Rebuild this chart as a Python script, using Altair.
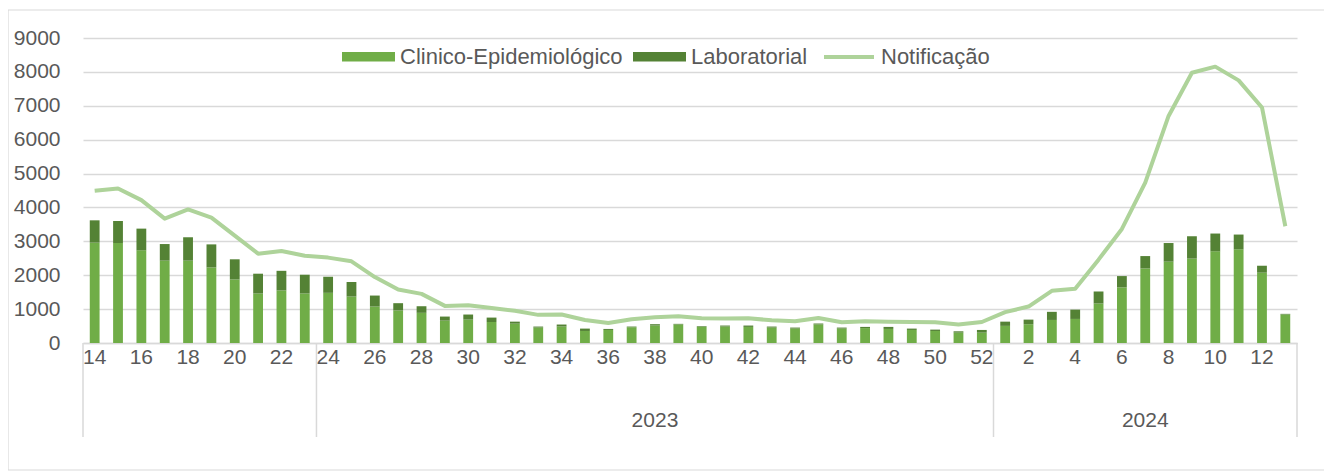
import altair as alt
import pandas as pd

weeks_2023 = list(range(14, 53))
weeks_2024 = list(range(1, 14))
weeks = weeks_2023 + weeks_2024
years = ["2023"] * len(weeks_2023) + ["2024"] * len(weeks_2024)

clinico = [2960, 2950, 2735, 2430, 2430, 2230, 1875, 1460, 1550, 1460,
           1480, 1370, 1075, 960, 890, 660, 690, 620, 570, 455,
           485, 355, 385, 465, 515, 545, 475, 485, 475, 455,
           425, 545, 425, 440, 415, 385, 355, 305, 305,
           505, 555, 680, 710, 1165, 1640, 2200, 2400, 2490, 2705, 2765, 2075, 840]
laboratorial = [660, 650, 640, 490, 690, 680, 595, 585, 580, 555,
                475, 430, 325, 215, 195, 120, 150, 130, 60, 30,
                60, 70, 30, 20, 40, 20, 20, 30, 40, 30,
                30, 30, 30, 35, 60, 40, 40, 40, 80,
                125, 135, 240, 275, 355, 335, 365, 550, 660, 525, 435, 205, 20]
notificacao = [4490, 4560, 4215, 3670, 3940, 3700, 3170, 2635, 2715, 2575,
               2520, 2410, 1945, 1580, 1450, 1095, 1115, 1035, 950, 830,
               840, 680, 590, 700, 760, 790, 730, 720, 730, 670,
               640, 740, 610, 645, 630, 620, 610, 545, 620,
               910, 1075, 1540, 1600, 2460, 3365, 4730, 6700, 7975, 8155, 7750, 6950, 3445]

series_bar = ["Clinico-Epidemiológico", "Laboratorial"]
series_line = "Notificação"
group_start_weeks = [14, 24, 1]
group_end_weeks = [13]
year_label_weeks = [38, 7]
year_labels = ["2023", "2024"]
y_ticks = list(range(0, 9001, 1000))

FONT = "Liberation Sans"
TXT = "#595959"
GRID = "#D9D9D9"

bars_df = pd.DataFrame({
    "week": weeks * 2,
    "year": years * 2,
    "tipo": [series_bar[0]] * len(weeks) + [series_bar[1]] * len(weeks),
    "valor": clinico + laboratorial,
})
line_df = pd.DataFrame({"week": weeks, "valor": notificacao, "serie": series_line})
sep_start_df = pd.DataFrame({"week": group_start_weeks})
sep_end_df = pd.DataFrame({"week": group_end_weeks})
year_df = pd.DataFrame({"week": year_label_weeks, "label": year_labels})

W, H = 1214, 305
xscale = alt.Scale(domain=weeks, paddingInner=0, paddingOuter=0)
yscale = alt.Scale(domain=[0, 9000], nice=False)

xaxis = alt.Axis(
    labelAngle=0, labelFont=FONT, labelFontSize=21, labelColor=TXT,
    ticks=False, domainColor=GRID, domainWidth=1.5, grid=False,
    labelPadding=3, labelOverlap=False, labelBaseline="top",
    labelExpr="datum.value % 2 == 0 ? datum.label : ''",
)
yaxis = alt.Axis(
    values=y_ticks, format="d",
    labelFont=FONT, labelFontSize=21, labelColor=TXT, ticks=False,
    domain=False, gridColor=GRID, gridWidth=1.3, labelPadding=23,
)

frame = alt.Chart(alt.Data(values=[{}])).mark_rect(
    fillOpacity=0, stroke=GRID, strokeWidth=1.2
).encode(
    x=alt.value(-75), x2=alt.value(1242), y=alt.value(-28), y2=alt.value(432)
)

bars = alt.Chart(bars_df).mark_bar(width={"band": 0.42}).encode(
    x=alt.X("week:O", scale=xscale, title=None, axis=xaxis),
    y=alt.Y("valor:Q", scale=yscale, stack="zero", title=None, axis=yaxis),
    color=alt.Color(
        "tipo:N",
        scale=alt.Scale(domain=series_bar, range=["#70AD47", "#548235"]),
        legend=alt.Legend(
            title=None, orient="none", direction="horizontal",
            legendX=259, legendY=-8,
            symbolType="M-1,-0.18H1V0.18H-1Z", symbolSize=2809,
            symbolStrokeWidth=0, symbolOpacity=1,
            labelFont=FONT, labelFontSize=22, labelColor=TXT, labelLimit=0,
            labelOffset=5, columnPadding=10,
        ),
    ),
    order=alt.Order("tipo:N", sort="ascending"),
)

line = alt.Chart(line_df).mark_line(strokeWidth=4, strokeJoin="round").encode(
    x=alt.X("week:O", scale=xscale, title=None, axis=xaxis),
    y=alt.Y("valor:Q", scale=yscale, title=None, axis=yaxis),
    stroke=alt.Stroke(
        "serie:N",
        scale=alt.Scale(domain=[series_line], range=["#AED39A"]),
        legend=alt.Legend(
            title=None, orient="none", direction="horizontal",
            legendX=739, legendY=-8,
            symbolType="stroke", symbolSize=2500, symbolStrokeWidth=4,
            labelFont=FONT, labelFontSize=22, labelColor=TXT, labelOffset=5,
            labelLimit=0,
        ),
    ),
)

sep_start = alt.Chart(sep_start_df).mark_rule(color=GRID, strokeWidth=1.5).encode(
    x=alt.X("week:O", scale=xscale, bandPosition=0, title=None, axis=xaxis),
    y=alt.value(H), y2=alt.value(H + 94),
)
sep_end = alt.Chart(sep_end_df).mark_rule(color=GRID, strokeWidth=1.5).encode(
    x=alt.X("week:O", scale=xscale, bandPosition=1, title=None, axis=xaxis),
    y=alt.value(H), y2=alt.value(H + 94),
)
year_text = alt.Chart(year_df).mark_text(
    font=FONT, fontSize=21, color=TXT, baseline="middle", align="center"
).encode(
    x=alt.X("week:O", scale=xscale, title=None, axis=xaxis),
    y=alt.value(H + 78),
    text="label:N",
)

chart = alt.layer(frame, bars, line, sep_start, sep_end, year_text).properties(
    width=W, height=H,
    autosize=alt.AutoSizeParams(type="none"),
    padding={"left": 75, "top": 30, "right": 27, "bottom": 128},
    background="white",
).configure_view(stroke=None)

chart.save("out.html", embed_options={"renderer": "svg", "actions": False})
